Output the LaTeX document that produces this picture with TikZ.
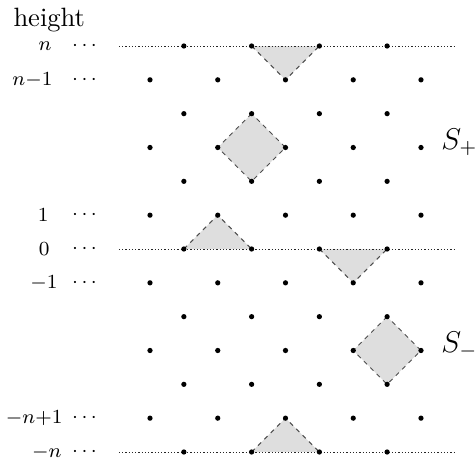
\documentclass[tikz,border=0pt]{standalone}
\begin{document}
\begin{tikzpicture}[x=0.4pt,y=-0.4pt,
  lbl/.style={inner sep=0pt, anchor=east, font=\fontsize{10.95}{13}\selectfont},
  dts/.style={inner sep=0pt, anchor=center, font=\fontsize{7.6}{9}\selectfont},
  big/.style={inner sep=0pt, font=\fontsize{10.6}{12.5}\selectfont},
  sbig/.style={inner sep=0pt, font=\fontsize{12}{14}\selectfont},
  region/.style={fill=black!13, draw=none},
  regionedge/.style={draw=black!70, line width=0.4pt, dash pattern=on 1.8pt off 1.8pt},
  level/.style={draw=black!85, line width=0.4pt, dash pattern=on 0.45pt off 0.85pt},
  gridpt/.style={fill=black}]
\useasboundingbox (0,0) rectangle (476,461);
% lattice coordinates
\foreach \i in {0,...,8}{
  \foreach \j in {0,...,12}{
    \coordinate (p-\i-\j) at ({150+33.875*\i},{46+33.833*\j});
  }
}
% shaded regions
\fill[region] (p-3-0) -- (p-4-1) -- (p-5-0) -- cycle;
\draw[regionedge] (p-3-0) -- (p-4-1) -- (p-5-0);
\fill[region] (p-3-2) -- (p-2-3) -- (p-3-4) -- (p-4-3) -- cycle;
\draw[regionedge] (p-3-2) -- (p-2-3) -- (p-3-4) -- (p-4-3) -- cycle;
\fill[region] (p-1-6) -- (p-2-5) -- (p-3-6) -- cycle;
\draw[regionedge] (p-1-6) -- (p-2-5) -- (p-3-6);
\fill[region] (p-5-6) -- (p-6-7) -- (p-7-6) -- cycle;
\draw[regionedge] (p-5-6) -- (p-6-7) -- (p-7-6);
\fill[region] (p-7-8) -- (p-6-9) -- (p-7-10) -- (p-8-9) -- cycle;
\draw[regionedge] (p-7-8) -- (p-6-9) -- (p-7-10) -- (p-8-9) -- cycle;
\fill[region] (p-3-12) -- (p-4-11) -- (p-5-12) -- cycle;
\draw[regionedge] (p-3-12) -- (p-4-11) -- (p-5-12);
% dotted levels
\coordinate (ln-top-l) at (119,46);   \coordinate (ln-top-r) at (456,46);
\coordinate (ln-mid-l) at (119,249);  \coordinate (ln-mid-r) at (456,249);
\coordinate (ln-bot-l) at (119,452);  \coordinate (ln-bot-r) at (456,452);
\draw[level] (ln-top-l) -- (ln-top-r);
\draw[level] (ln-mid-l) -- (ln-mid-r);
\draw[level] (ln-bot-l) -- (ln-bot-r);
% lattice points
\foreach \i in {0,...,8}{
  \foreach \j in {0,...,12}{
    \pgfmathtruncatemacro{\parity}{mod(\i+\j,2)}
    \ifnum\parity=1 \fill[gridpt] (p-\i-\j) circle (1.05pt);\fi
  }
}
% labels
\node[big, anchor=base west] (ht) at (13,26) {height};
\node[lbl] (l0) at (52,46) {$\scriptstyle n$};
\node[lbl] (l1) at (53,79.8) {$\scriptstyle n-1$};
\node[lbl] (l5) at (49,215.2) {$\scriptstyle 1$};
\node[lbl] (l6) at (50,249) {$\scriptstyle 0$};
\node[lbl] (l7) at (58,282.8) {$\scriptstyle -1$};
\node[lbl] (l11) at (63,418.2) {$\scriptstyle -n+1$};
\node[lbl] (l12) at (62,452) {$\scriptstyle -n$};
\foreach \y/\k in {46/0,79.8/1,215.2/5,249/6,282.8/7,418.2/11,452/12}{
  \node[dts] (d\k) at (84.5,\y) {$\cdots$};
}
\node[sbig, anchor=base west] (sp) at (441,149) {$S_+$};
\node[sbig, anchor=base west] (sm) at (441,352) {$S_-$};
\end{tikzpicture}
\end{document}
